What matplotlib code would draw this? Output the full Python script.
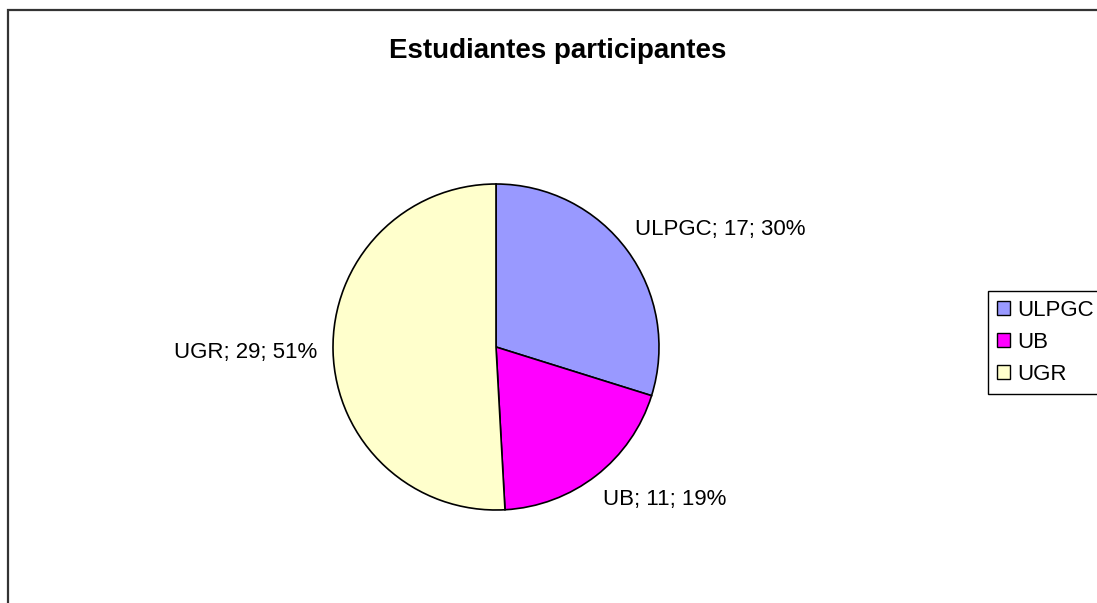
import matplotlib
matplotlib.use("Agg")
import matplotlib.pyplot as plt
from matplotlib.patches import Rectangle, Patch

plt.rcParams['font.family'] = ['Liberation Sans', 'DejaVu Sans']

universidades = ["ULPGC", "UB", "UGR"]
estudiantes = [17, 11, 29]
colores = ["#9999FF", "#FF00FF", "#FFFFCC"]

total = sum(estudiantes)
etiquetas = ["%s; %d; %d%%" % (u, v, round(100.0 * v / total))
             for u, v in zip(universidades, estudiantes)]

W, H = 1097, 603
fig = plt.figure(figsize=(W / 100, H / 100), dpi=100)

# marco del grafico (cortado a la derecha y abajo)
fig.patches.append(Rectangle((8 / W, -0.05), 1.1, 1 - 10 / H + 0.05,
                             transform=fig.transFigure, fill=False,
                             edgecolor="#333333", linewidth=1.6))

# pie: centro (496, 347), radio 163 px
cx, cy, r = 496, 347, 163
ax = fig.add_axes([(cx - r) / W, 1 - (cy + r) / H, 2 * r / W, 2 * r / H])
wedges, texts = ax.pie(estudiantes, labels=etiquetas, colors=colores,
                       startangle=90, counterclock=False,
                       labeldistance=1.12,
                       wedgeprops=dict(edgecolor="black", linewidth=1.2),
                       textprops=dict(fontsize=16, color="black"))
ax.set_xlim(-1, 1)
ax.set_ylim(-1, 1)
ax.set_aspect("equal")
ax.axis("off")

# pequeño ajuste de las etiquetas (estilo Excel)
ajustes = [(-0.05, 0.055), (-0.03, -0.05), (0.025, -0.005)]
for t, (dx, dy) in zip(texts, ajustes):
    x, y = t.get_position()
    t.set_position((x + dx, y + dy))

fig.text(558 / W, 1 - 58 / H, "Estudiantes participantes",
         ha="center", va="baseline", fontsize=20, fontweight="bold")

handles = [Patch(facecolor=c, edgecolor="black", linewidth=1) for c in colores]
leg = fig.legend(handles, universidades, loc="upper left",
                 bbox_to_anchor=(988 / W, 1 - 291 / H),
                 fontsize=16, frameon=True, fancybox=False,
                 edgecolor="black", framealpha=1,
                 handlelength=0.6, handleheight=0.6, handletextpad=0.3,
                 borderpad=0.4, labelspacing=0.5, borderaxespad=0)
leg.get_frame().set_linewidth(1)

fig.savefig("out.png", dpi=100)
